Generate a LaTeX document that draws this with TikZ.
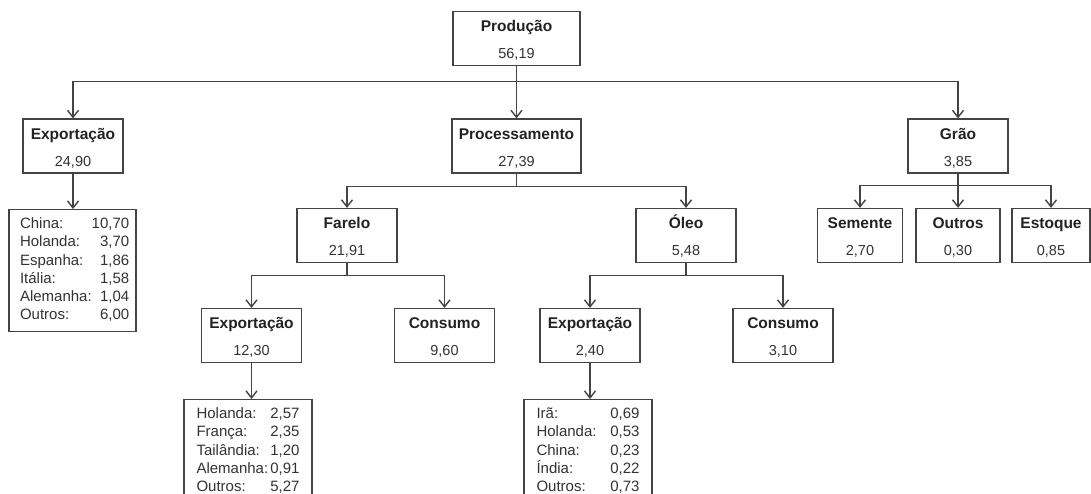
\documentclass[tikz,border=0pt]{standalone}
\usepackage{fontspec}
\setmainfont{Liberation Sans}
\usetikzlibrary{arrows.meta}
\definecolor{edge}{HTML}{444444}
\definecolor{ttl}{HTML}{222222}
\definecolor{val}{HTML}{333333}
\newcommand\bt[2]{{\fontsize{15.5}{27}\selectfont\bfseries\color{ttl}\rule{0pt}{15pt}#1}\\{#2}}
\newcommand\lst[1]{\begin{tabular*}{\linewidth}{@{}l@{\extracolsep{\fill}}r@{}}#1\end{tabular*}}
\tikzset{
  boxnode/.style={draw=edge, line width=1.2pt, fill=white, inner sep=0pt,
    minimum height=54pt, align=center, text=val,
    font=\fontsize{14.5}{27}\selectfont},
  listnode/.style={draw=edge, line width=1.2pt, fill=white, anchor=north,
    inner ysep=6pt, text=val, font=\fontsize{15}{18.3}\selectfont},
  arr/.style={draw=edge, line width=1.2pt,
    -{Straight Barb[length=7pt,width=11pt,line width=1.4pt]}},
}
\begin{document}
\begin{tikzpicture}[x=1pt,y=1pt]
\useasboundingbox[fill=white] (0,0) rectangle (1091,-493);
% level 0
\node[boxnode, minimum width=127pt] (prod) at (516.5,-38.5) {\bt{Produção}{56,19}};
% level 1
\node[boxnode, minimum width=100pt] (exp1) at (73,-146) {\bt{Exportação}{24,90}};
\node[boxnode, minimum width=129pt] (proc) at (516.5,-146) {\bt{Processamento}{27,39}};
\node[boxnode, minimum width=100pt] (grao) at (958,-146) {\bt{Grão}{3,85}};
% level 2
\node[listnode, text width=105pt, inner xsep=11pt] (list1) at (72.5,-209)
  {\lst{China: & 10,70\\ Holanda: & 3,70\\ Espanha: & 1,86\\ Itália: & 1,58\\ Alemanha: & 1,04\\ Outros: & 6,00}};
\node[boxnode, minimum width=100pt] (farelo) at (347,-235.5) {\bt{Farelo}{21,91}};
\node[boxnode, minimum width=100pt] (oleo) at (686,-235.5) {\bt{Óleo}{5,48}};
\node[boxnode, minimum width=85pt] (semente) at (860,-235.5) {\bt{Semente}{2,70}};
\node[boxnode, minimum width=84pt] (outros) at (958,-235.5) {\bt{Outros}{0,30}};
\node[boxnode, minimum width=78pt] (estoque) at (1051,-235.5) {\bt{Estoque}{0,85}};
% level 3
\node[boxnode, minimum width=100pt] (fexp) at (251.5,-335.5) {\bt{Exportação}{12,30}};
\node[boxnode, minimum width=100pt] (fcons) at (444.5,-335.5) {\bt{Consumo}{9,60}};
\node[boxnode, minimum width=100pt] (oexp) at (590,-335.5) {\bt{Exportação}{2,40}};
\node[boxnode, minimum width=100pt] (ocons) at (783,-335.5) {\bt{Consumo}{3,10}};
% level 4
\node[listnode, text width=103pt, inner xsep=12.5pt] (flist) at (248,-399)
  {\lst{Holanda: & 2,57\\ França: & 2,35\\ Tailândia: & 1,20\\ Alemanha: & 0,91\\ Outros: & 5,27}};
\node[listnode, text width=103pt, inner xsep=12.5pt] (olist) at (588,-399)
  {\lst{Irã: & 0,69\\ Holanda: & 0,53\\ China: & 0,23\\ Índia: & 0,22\\ Outros: & 0,73}};
% connectors
\draw[arr] (prod.south) -- ++(0,-15) -| (exp1.north);
\draw[arr] (prod.south) -- (proc.north);
\draw[arr] (prod.south) -- ++(0,-15) -| (grao.north);
\draw[arr] (exp1.south) -- (exp1.south |- list1.north);
\draw[arr] (proc.south) -- ++(0,-13) -| (farelo.north);
\draw[arr] (proc.south) -- ++(0,-13) -| (oleo.north);
\draw[arr] (grao.south) -- ++(0,-12) -| (semente.north);
\draw[arr] (grao.south) -- (outros.north);
\draw[arr] (grao.south) -- ++(0,-12) -| (estoque.north);
\draw[arr] (farelo.south) -- ++(0,-12) -| (fexp.north);
\draw[arr] (farelo.south) -- ++(0,-12) -| (fcons.north);
\draw[arr] (oleo.south) -- ++(0,-12) -| (oexp.north);
\draw[arr] (oleo.south) -- ++(0,-12) -| (ocons.north);
\draw[arr] (fexp.south) -- (fexp.south |- flist.north);
\draw[arr] (oexp.south) -- (oexp.south |- olist.north);
\end{tikzpicture}
\end{document}
